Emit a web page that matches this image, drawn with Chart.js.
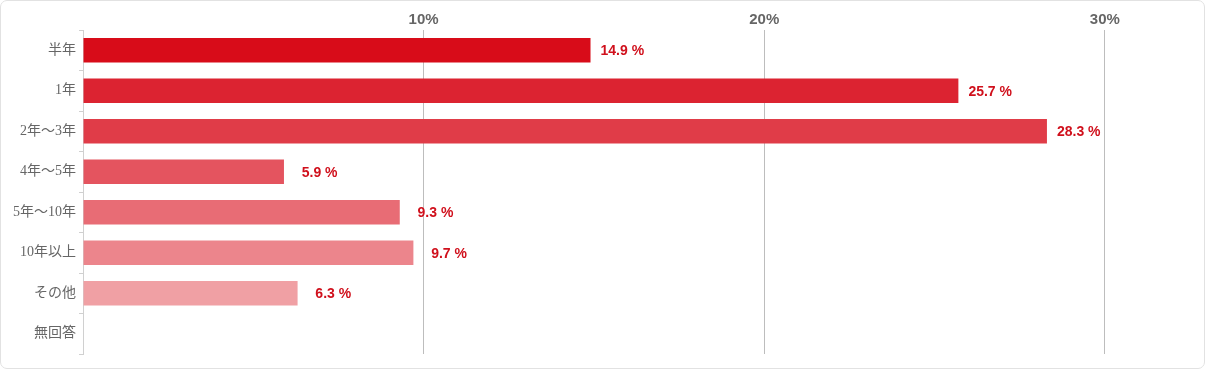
<!DOCTYPE html>
<html>
<head>
<meta charset="utf-8">
<script src="https://cdn.jsdelivr.net/npm/chart.js@4/dist/chart.umd.min.js"></script>
<style>
  html, body { margin: 0; padding: 0; background: #fff; }
  #wrap {
    width: 1205px; height: 369px; box-sizing: border-box;
    border: 1px solid #e2e2e2; border-radius: 7px; position: relative;
  }
  #chart { display: block; }
</style>
</head>
<body>
<div id="wrap"><canvas id="chart" width="1203" height="367"></canvas></div>
<script>
// Data
var categories = ["半年", "1年", "2年〜3年", "4年〜5年", "5年〜10年", "10年以上", "その他", "無回答"];
var values = [14.9, 25.7, 28.3, 5.9, 9.3, 9.7, 6.3, null];
var barColors = ["#d80c19", "#dc2331", "#e03c48", "#e4545f", "#e86c75", "#ec858c", "#f0a0a4", "#f5bcbf"];
var xTicks = [10, 20, 30];

var labelFont = "bold 14px 'Liberation Sans', Arial";

// value labels drawn right-aligned in a fixed box after each bar
var valueLabels = {
  id: "valueLabels",
  afterDatasetsDraw: function(chart) {
    var ctx = chart.ctx;
    var meta = chart.getDatasetMeta(0);
    ctx.save();
    ctx.font = labelFont;
    ctx.fillStyle = "#d0101c";
    ctx.textAlign = "right";
    ctx.textBaseline = "middle";
    var boxW = ctx.measureText("00.0 %").width;
    meta.data.forEach(function(bar, i) {
      if (values[i] == null) return;
      ctx.fillText(values[i].toFixed(1) + " %", bar.x + 10 + boxW, bar.y + 1);
    });
    ctx.restore();
  }
};

function drawChart() {
  var ctx = document.getElementById("chart").getContext("2d");
  new Chart(ctx, {
    type: "bar",
    data: {
      labels: categories,
      datasets: [{
        data: values,
        backgroundColor: barColors,
        borderWidth: 0,
        categoryPercentage: 0.6,
        barPercentage: 1
      }]
    },
    plugins: [valueLabels],
    options: {
      indexAxis: "y",
      responsive: false,
      animation: false,
      layout: { padding: { top: 0, right: 14, bottom: 14, left: 0 } },
      plugins: { legend: { display: false }, tooltip: { enabled: false } },
      scales: {
        x: {
          position: "top",
          min: 0,
          max: 32.5,
          afterBuildTicks: function(axis) {
            axis.ticks = [0].concat(xTicks).map(function(v) { return { value: v }; });
          },
          afterFit: function(axis) { axis.height = 29; },
          border: { display: false },
          grid: {
            color: function(c) { return c.tick && c.tick.value === 0 ? "rgba(0,0,0,0)" : "#bdbdbd"; },
            drawTicks: false
          },
          ticks: {
            padding: 1,
            color: "#666",
            font: { family: "'Liberation Sans', Arial", weight: "bold", size: 15 },
            callback: function(v) { return v === 0 ? "" : v + "%"; }
          }
        },
        y: {
          afterFit: function(axis) { axis.width = 82; },
          border: { display: true, color: "#d0d0d0", width: 1 },
          grid: { drawOnChartArea: false, color: "#d0d0d0", tickLength: 4, offset: true },
          ticks: {
            padding: 3,
            color: "#666",
            font: { family: "'Liberation Serif', 'Noto Sans CJK JP'", size: 14 }
          }
        }
      }
    }
  });
}

window.onload = function() {
  Promise.all([
    document.fonts.load(labelFont),
    document.fonts.load("14px 'Liberation Serif'"),
    document.fonts.load("14px 'Noto Sans CJK JP'", "年")
  ]).then(drawChart, drawChart);
};
</script>
</body>
</html>
